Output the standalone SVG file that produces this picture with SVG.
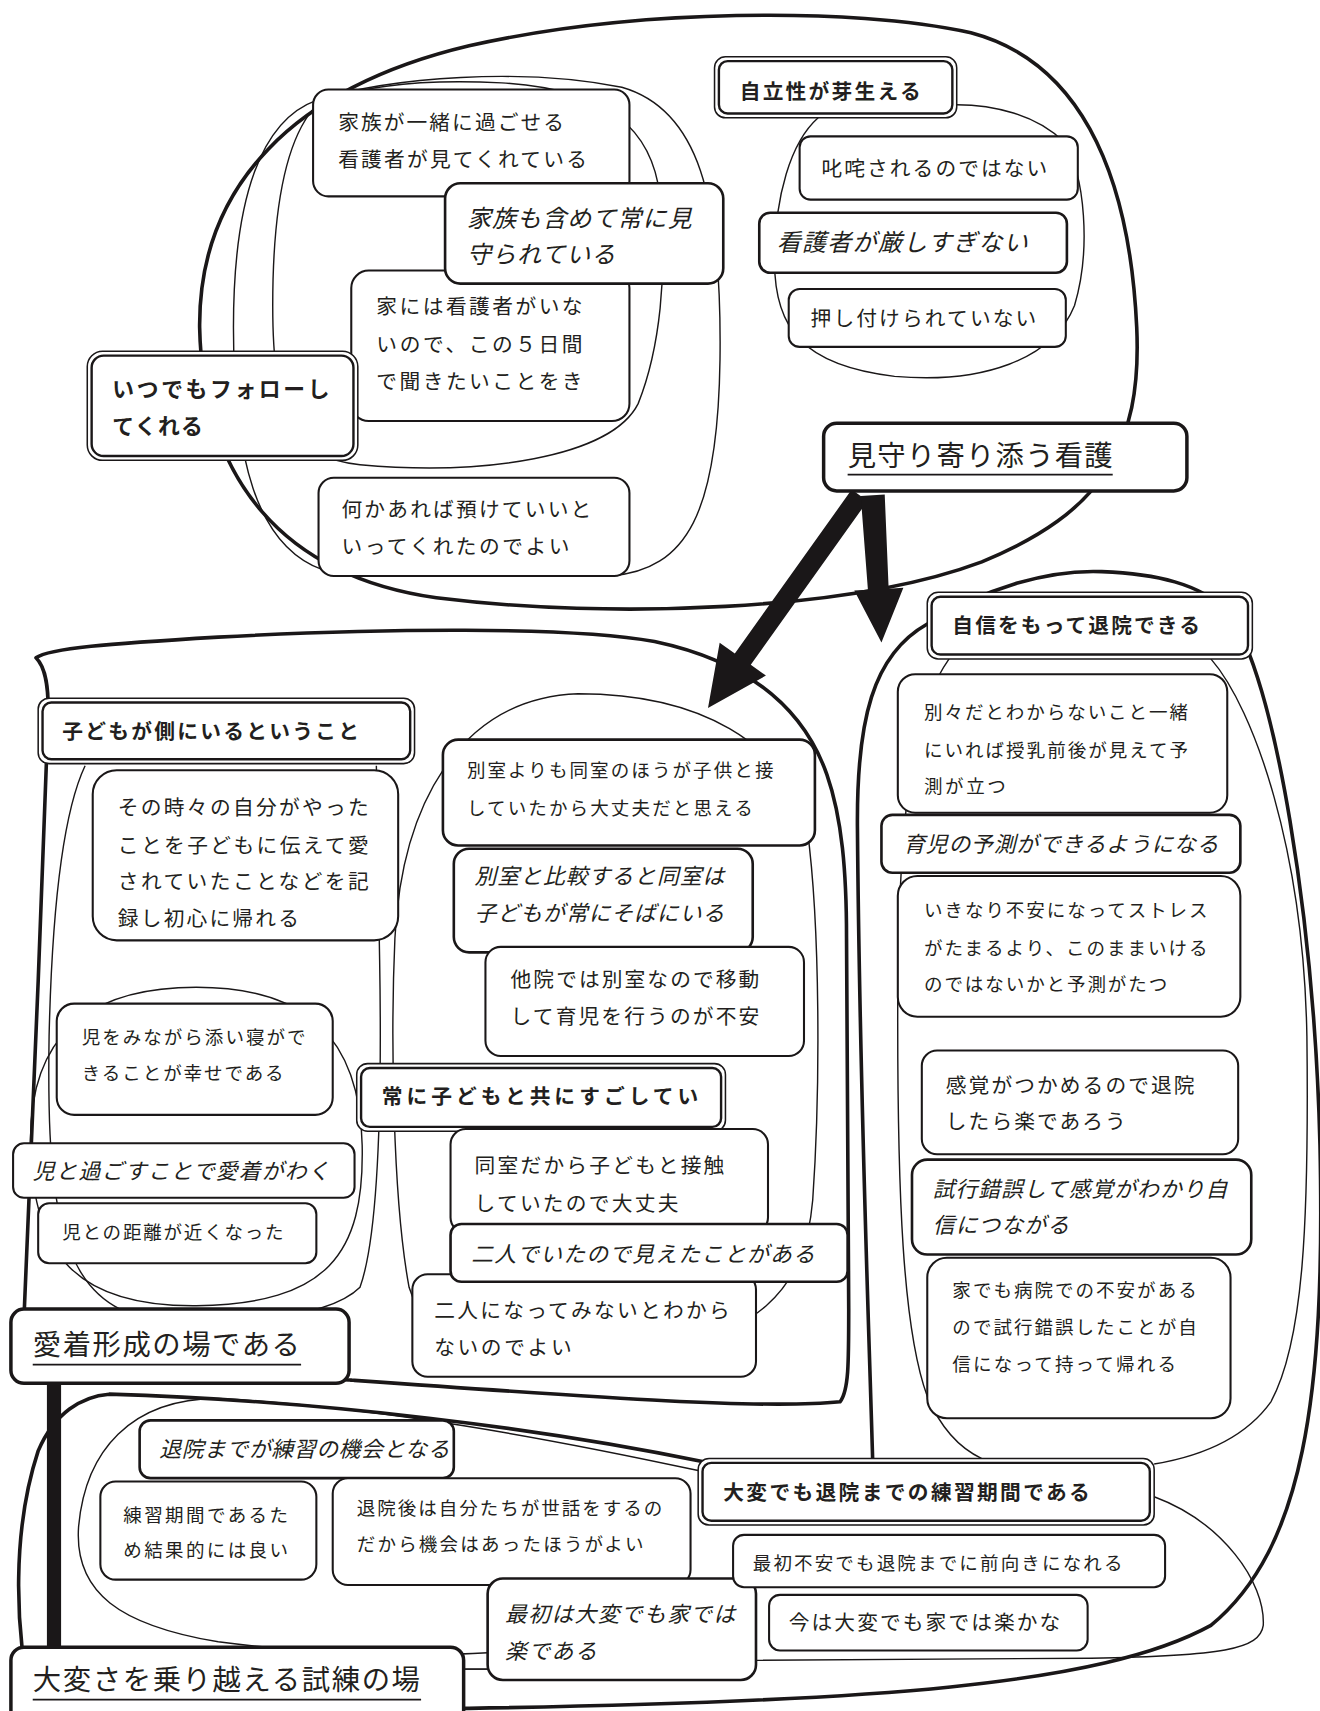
<svg xmlns="http://www.w3.org/2000/svg" width="1320" height="1711" viewBox="0 0 1320 1711">
<style>
.bg{fill:#ffffff}
.blob{fill:none;stroke:#1a1718;stroke-width:3.3;stroke-linejoin:round;stroke-linecap:round}
.thin{fill:none;stroke:#1a1718;stroke-width:1.3}
.box{fill:#ffffff;stroke:#1a1718;stroke-width:1.9}
.boxm{fill:#ffffff;stroke:#1a1718;stroke-width:2.4}
.boxt{fill:#ffffff;stroke:#1a1718;stroke-width:3.2}
.dout{fill:#ffffff;stroke:#1a1718;stroke-width:1.4}
.din{fill:none;stroke:#1a1718;stroke-width:2.2}
.ul{stroke:#1a1718;stroke-width:1.6}
.arr{fill:#1a1718;stroke:none}
text{font-family:"Noto Sans CJK JP","Noto Sans CJK SC",sans-serif;fill:#231f20}
.s17{font-size:17px}
.s19{font-size:19px}
.s20{font-size:20px}
.s22{font-size:22px}
.s26{font-size:26px}
.b{font-weight:bold}
.i{font-style:italic}
</style>
<rect class="bg" x="0" y="0" width="1320" height="1711"/>
<g transform="scale(1.0909)">
<g id="regions">
  <path class="blob" d="M 183,300 C 182,170 270,80 430,42 C 580,8 780,6 890,30 C 985,55 1035,150 1042,300 C 1047,410 1010,470 900,515 C 780,560 560,568 400,548 C 260,528 186,440 183,300 Z"/>
  <path class="thin" d="M 290,92 C 240,110 214,180 214,300 C 214,420 235,500 295,522 L 560,528 C 630,522 658,470 660,330 C 662,180 640,100 570,80 C 480,62 360,70 290,92 Z"/>
  <path class="thin" d="M 287,100 C 262,130 250,190 250,280 C 250,380 268,420 330,426 C 440,436 560,420 585,370 C 605,320 612,250 605,180 C 598,120 560,82 460,76 C 380,72 315,80 287,100 Z"/>
  <path class="thin" d="M 750,108 C 725,130 710,180 710,240 C 710,300 735,335 820,345 C 900,352 965,330 985,280 C 1000,230 995,160 975,130 C 950,105 910,96 877,96"/>
  <path class="blob" d="M 33,603 C 45,594 100,590 200,584 C 350,576 520,574 600,588 C 680,605 735,645 758,710 C 772,750 776,800 776,860 L 778,1200 C 778,1250 778,1275 770,1285 C 700,1292 560,1282 320,1265 L 20,1255 C 26,1100 38,850 44,660 C 45,630 42,612 33,603 Z"/>
  <path class="thin" d="M 78,702 C 60,740 48,820 45,950 C 43,1080 50,1170 110,1200 C 200,1220 300,1210 330,1180 C 348,1130 350,1000 348,880 C 347,800 346,740 345,702"/>
  <path class="thin" d="M 180,905 C 280,905 330,950 332,1050 C 334,1150 300,1195 180,1197 C 70,1198 30,1150 28,1050 C 26,950 80,905 180,905 Z"/>
  <path class="thin" d="M 530,636 C 640,636 720,680 740,760 C 752,850 752,1000 745,1100 C 738,1180 700,1230 560,1245 C 440,1255 390,1230 375,1180 C 360,1100 358,950 362,860 C 368,740 420,640 530,636 Z"/>
  <path class="blob" d="M 100,1278 C 300,1284 500,1310 645,1340 L 800,1340 C 796,1200 788,1000 786,760 C 785,660 800,600 850,572 C 900,540 960,522 1010,524 C 1060,526 1100,535 1125,560 C 1170,620 1205,850 1210,1050 C 1215,1280 1195,1420 1110,1490 C 1010,1545 800,1560 430,1566 L 30,1568 C 12,1490 12,1400 35,1330 C 50,1295 75,1280 100,1278 Z"/>
  <path class="thin" d="M 870,604 C 845,640 825,700 823,900 C 822,1100 828,1220 850,1280 C 865,1315 885,1330 900,1337"/>
  <path class="thin" d="M 1110,604 C 1150,650 1195,780 1198,950 C 1200,1120 1195,1230 1165,1285 C 1140,1320 1100,1335 1058,1342"/>
  <path class="thin" d="M 640,1348 C 500,1318 350,1290 200,1282 C 120,1282 78,1330 72,1400 C 68,1460 110,1490 200,1505 C 300,1518 400,1518 447,1515"/>
  <path class="thin" d="M 1058,1372 C 1120,1395 1160,1450 1158,1490 C 1155,1512 1120,1518 1000,1520 L 693,1522"/>
</g>
<g id="connectors">
  <polygon class="arr" points="780.7,448.8 795.3,459.2 688.2,609.4 702.1,619.3 649,649 659.7,589.1 673.6,599.0"/>
  <polygon class="arr" points="789,454.6 811,453.4 814.6,539.6 828.1,538.8 808,589 783.1,541.4 795.6,540.6"/>
  <rect class="arr" x="43" y="1262" width="13" height="252"/>
  <line class="ul" x1="424" y1="1530" x2="448" y2="1530"/>
</g>
<g id="n-A"><rect class="box" x="287" y="82" width="290" height="98" rx="14"/>
  <text class="s19" x="310" y="119" textLength="207" lengthAdjust="spacing">家族が一緒に過ごせる</text>
  <text class="s19" x="310" y="153" textLength="228" lengthAdjust="spacing">看護者が見てくれている</text></g>
<g id="n-C"><rect class="box" x="322" y="248" width="255" height="138" rx="16"/>
  <text class="s19" x="345" y="288" textLength="189" lengthAdjust="spacing">家には看護者がいな</text>
  <text class="s19" x="345" y="323" textLength="189" lengthAdjust="spacing">いので、この５日間</text>
  <text class="s19" x="345" y="357" textLength="189" lengthAdjust="spacing">で聞きたいことをき</text></g>
<g id="n-B"><rect class="boxm" x="408" y="168" width="255" height="92" rx="14"/>
  <text class="s22 i" x="428" y="208" textLength="206" lengthAdjust="spacing">家族も含めて常に見</text>
  <text class="s22 i" x="428" y="241" textLength="136" lengthAdjust="spacing">守られている</text></g>
<g id="n-D"><rect class="dout" x="80" y="322" width="248" height="100" rx="14"/><rect class="din" x="84" y="326" width="240" height="92" rx="11"/>
  <text class="s20 b" x="103" y="364" textLength="199" lengthAdjust="spacing">いつでもフォローし</text>
  <text class="s20 b" x="103" y="398" textLength="83" lengthAdjust="spacing">てくれる</text></g>
<g id="n-E"><rect class="box" x="292" y="438" width="285" height="90" rx="14"/>
  <text class="s19" x="313" y="474" textLength="229" lengthAdjust="spacing">何かあれば預けていいと</text>
  <text class="s19" x="313" y="508" textLength="209" lengthAdjust="spacing">いってくれたのでよい</text></g>
<g id="n-F"><rect class="dout" x="655" y="52" width="222" height="56" rx="10"/><rect class="din" x="659" y="56" width="214" height="48" rx="8"/>
  <text class="s19 b" x="678" y="91" textLength="166" lengthAdjust="spacing">自立性が芽生える</text></g>
<g id="n-G"><rect class="box" x="733" y="125" width="255" height="58" rx="10"/>
  <text class="s19" x="753" y="161" textLength="207" lengthAdjust="spacing">叱咤されるのではない</text></g>
<g id="n-H"><rect class="boxm" x="696" y="195" width="282" height="55" rx="10"/>
  <text class="s22 i" x="712" y="230" textLength="230" lengthAdjust="spacing">看護者が厳しすぎない</text></g>
<g id="n-I"><rect class="box" x="723" y="265" width="254" height="53" rx="10"/>
  <text class="s19" x="743" y="299" textLength="207" lengthAdjust="spacing">押し付けられていない</text></g>
<g id="n-J"><rect class="boxt" x="755" y="388" width="333" height="62" rx="12"/>
  <text class="s26" x="777" y="427" textLength="243" lengthAdjust="spacing">見守り寄り添う看護</text>
  <line class="ul" x1="777" y1="435" x2="1020" y2="435"/></g>
<g id="n-K"><rect class="dout" x="35" y="640" width="345" height="60" rx="10"/><rect class="din" x="39" y="644" width="337" height="52" rx="8"/>
  <text class="s19 b" x="57" y="677" textLength="272" lengthAdjust="spacing">子どもが側にいるということ</text></g>
<g id="n-L"><rect class="box" x="85" y="706" width="280" height="156" rx="22"/>
  <text class="s19" x="108" y="747" textLength="230" lengthAdjust="spacing">その時々の自分がやった</text>
  <text class="s19" x="108" y="782" textLength="230" lengthAdjust="spacing">ことを子どもに伝えて愛</text>
  <text class="s19" x="108" y="815" textLength="230" lengthAdjust="spacing">されていたことなどを記</text>
  <text class="s19" x="108" y="849" textLength="166" lengthAdjust="spacing">録し初心に帰れる</text></g>
<g id="n-M"><rect class="box" x="52" y="920" width="253" height="102" rx="16"/>
  <text class="s17" x="75" y="957" textLength="205" lengthAdjust="spacing">児をみながら添い寝がで</text>
  <text class="s17" x="75" y="990" textLength="185" lengthAdjust="spacing">きることが幸せである</text></g>
<g id="n-N"><rect class="box" x="12" y="1048" width="313" height="50" rx="10"/>
  <text class="s20 i" x="30" y="1081" textLength="272" lengthAdjust="spacing">児と過ごすことで愛着がわく</text></g>
<g id="n-O"><rect class="box" x="35" y="1103" width="255" height="55" rx="10"/>
  <text class="s17" x="57" y="1136" textLength="203" lengthAdjust="spacing">児との距離が近くなった</text></g>
<g id="n-P"><rect class="boxt" x="10" y="1200" width="310" height="68" rx="12"/>
  <text class="s26" x="30" y="1242" textLength="245" lengthAdjust="spacing">愛着形成の場である</text>
  <line class="ul" x1="30" y1="1251" x2="276" y2="1251"/></g>
<g id="n-R"><rect class="boxm" x="406" y="678" width="341" height="97" rx="14"/>
  <text class="s17" x="428" y="712" textLength="281" lengthAdjust="spacing">別室よりも同室のほうが子供と接</text>
  <text class="s17" x="428" y="747" textLength="262" lengthAdjust="spacing">していたから大丈夫だと思える</text></g>
<g id="n-S"><rect class="boxm" x="416" y="778" width="274" height="95" rx="14"/>
  <text class="s20 i" x="435" y="810" textLength="229" lengthAdjust="spacing">別室と比較すると同室は</text>
  <text class="s20 i" x="435" y="844" textLength="229" lengthAdjust="spacing">子どもが常にそばにいる</text></g>
<g id="n-T"><rect class="box" x="445" y="868" width="292" height="100" rx="14"/>
  <text class="s19" x="468" y="905" textLength="228" lengthAdjust="spacing">他院では別室なので移動</text>
  <text class="s19" x="468" y="939" textLength="228" lengthAdjust="spacing">して育児を行うのが不安</text></g>
<g id="n-Q"><rect class="dout" x="327" y="975" width="338" height="62" rx="10"/><rect class="din" x="331" y="979" width="330" height="54" rx="8"/>
  <text class="s19 b" x="350" y="1012" textLength="290" lengthAdjust="spacing">常に子どもと共にすごしてい</text></g>
<g id="n-U"><rect class="box" x="413" y="1035" width="291" height="95" rx="14"/>
  <text class="s19" x="435" y="1075" textLength="229" lengthAdjust="spacing">同室だから子どもと接触</text>
  <text class="s19" x="435" y="1110" textLength="187" lengthAdjust="spacing">していたので大丈夫</text></g>
<g id="n-W"><rect class="box" x="378" y="1168" width="315" height="94" rx="14"/>
  <text class="s19" x="398" y="1208" textLength="271" lengthAdjust="spacing">二人になってみないとわから</text>
  <text class="s19" x="398" y="1242" textLength="126" lengthAdjust="spacing">ないのでよい</text></g>
<g id="n-V"><rect class="boxm" x="413" y="1122" width="364" height="53" rx="10"/>
  <text class="s20 i" x="432" y="1157" textLength="315" lengthAdjust="spacing">二人でいたので見えたことがある</text></g>
<g id="n-X"><rect class="dout" x="850" y="543" width="298" height="61" rx="10"/><rect class="din" x="854" y="547" width="290" height="53" rx="8"/>
  <text class="s19 b" x="873" y="580" textLength="227" lengthAdjust="spacing">自信をもって退院できる</text></g>
<g id="n-Z1"><rect class="box" x="823" y="618" width="302" height="127" rx="16"/>
  <text class="s17" x="847" y="659" textLength="242" lengthAdjust="spacing">別々だとわからないこと一緒</text>
  <text class="s17" x="847" y="694" textLength="242" lengthAdjust="spacing">にいれば授乳前後が見えて予</text>
  <text class="s17" x="847" y="727" textLength="75" lengthAdjust="spacing">測が立つ</text></g>
<g id="n-Z3"><rect class="box" x="823" y="803" width="314" height="129" rx="18"/>
  <text class="s17" x="847" y="841" textLength="260" lengthAdjust="spacing">いきなり不安になってストレス</text>
  <text class="s17" x="847" y="875" textLength="260" lengthAdjust="spacing">がたまるより、このままいける</text>
  <text class="s17" x="847" y="908" textLength="223" lengthAdjust="spacing">のではないかと予測がたつ</text></g>
<g id="n-Z2"><rect class="boxm" x="808" y="747" width="329" height="53" rx="10"/>
  <text class="s20 i" x="828" y="781" textLength="289" lengthAdjust="spacing">育児の予測ができるようになる</text></g>
<g id="n-Z4"><rect class="box" x="845" y="963" width="290" height="95" rx="14"/>
  <text class="s19" x="867" y="1002" textLength="228" lengthAdjust="spacing">感覚がつかめるので退院</text>
  <text class="s19" x="867" y="1035" textLength="165" lengthAdjust="spacing">したら楽であろう</text></g>
<g id="n-Z6"><rect class="box" x="850" y="1153" width="278" height="147" rx="18"/>
  <text class="s17" x="873" y="1189" textLength="224" lengthAdjust="spacing">家でも病院での不安がある</text>
  <text class="s17" x="873" y="1223" textLength="224" lengthAdjust="spacing">ので試行錯誤したことが自</text>
  <text class="s17" x="873" y="1257" textLength="205" lengthAdjust="spacing">信になって持って帰れる</text></g>
<g id="n-Z5"><rect class="boxm" x="836" y="1063" width="311" height="87" rx="14"/>
  <text class="s20 i" x="855" y="1097" textLength="270" lengthAdjust="spacing">試行錯誤して感覚がわかり自</text>
  <text class="s20 i" x="855" y="1130" textLength="125" lengthAdjust="spacing">信につながる</text></g>
<g id="n-AB"><rect class="boxm" x="128" y="1302" width="288" height="53" rx="10"/>
  <text class="s20 i" x="146" y="1336" textLength="266" lengthAdjust="spacing">退院までが練習の機会となる</text></g>
<g id="n-AC"><rect class="box" x="92" y="1358" width="198" height="90" rx="14"/>
  <text class="s17" x="113" y="1395" textLength="151" lengthAdjust="spacing">練習期間であるた</text>
  <text class="s17" x="113" y="1427" textLength="151" lengthAdjust="spacing">め結果的には良い</text></g>
<g id="n-AD"><rect class="box" x="305" y="1355" width="328" height="98" rx="14"/>
  <text class="s17" x="327" y="1389" textLength="280" lengthAdjust="spacing">退院後は自分たちが世話をするの</text>
  <text class="s17" x="327" y="1422" textLength="263" lengthAdjust="spacing">だから機会はあったほうがよい</text></g>
<g id="n-AE"><rect class="boxm" x="447" y="1447" width="246" height="93" rx="14"/>
  <text class="s20 i" x="463" y="1487" textLength="211" lengthAdjust="spacing">最初は大変でも家では</text>
  <text class="s20 i" x="463" y="1521" textLength="84" lengthAdjust="spacing">楽である</text></g>
<g id="n-Y"><rect class="dout" x="640" y="1337" width="418" height="61" rx="10"/><rect class="din" x="644" y="1341" width="410" height="53" rx="8"/>
  <text class="s19 b" x="663" y="1375" textLength="336" lengthAdjust="spacing">大変でも退院までの練習期間である</text></g>
<g id="n-AF"><rect class="box" x="672" y="1407" width="396" height="48" rx="10"/>
  <text class="s17" x="690" y="1439" textLength="339" lengthAdjust="spacing">最初不安でも退院までに前向きになれる</text></g>
<g id="n-AG"><rect class="box" x="705" y="1462" width="292" height="51" rx="10"/>
  <text class="s19" x="723" y="1494" textLength="249" lengthAdjust="spacing">今は大変でも家では楽かな</text></g>
<g id="n-AA"><rect class="boxt" x="10" y="1510" width="415" height="80" rx="12"/>
  <text class="s26" x="30" y="1549" textLength="355" lengthAdjust="spacing">大変さを乗り越える試練の場</text>
  <line class="ul" x1="30" y1="1558" x2="386" y2="1558"/></g>
</g>
</svg>
